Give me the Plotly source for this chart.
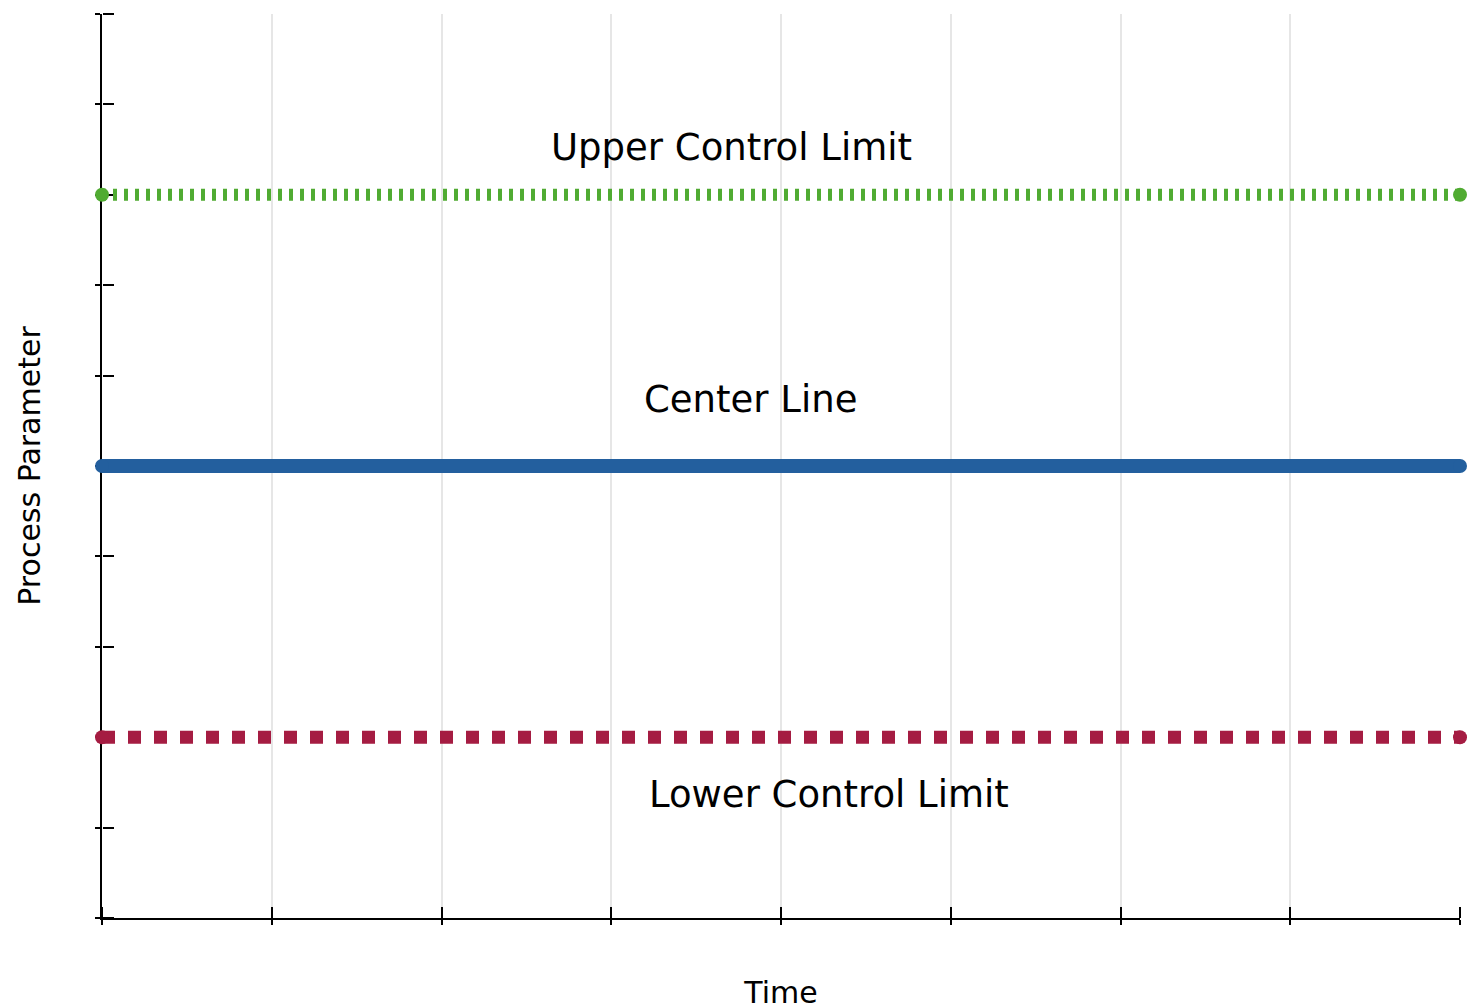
import plotly.graph_objects as go

time = [0, 8]
ucl = [8, 8]
center = [5, 5]
lcl = [2, 2]

labels = ["Upper Control Limit", "Center Line", "Lower Control Limit"]
label_x = [3.71, 3.82, 4.28]
label_y = [8.52, 5.74, 1.37]

x_ticks = list(range(0, 9))
y_ticks = list(range(0, 11))

FONT = "DejaVu Sans"
GREEN = "#50ab32"
BLUE = "#235f9e"
RED = "#a51c42"

fig = go.Figure()
fig.add_trace(go.Scatter(x=time, y=ucl, mode="lines+markers", cliponaxis=False,
                         line=dict(color=GREEN, width=12, dash="4px,7px"),
                         marker=dict(color=GREEN, size=14), hoverinfo="skip"))
fig.add_trace(go.Scatter(x=time, y=center, mode="lines+markers", cliponaxis=False,
                         line=dict(color=BLUE, width=14),
                         marker=dict(color=BLUE, size=14), hoverinfo="skip"))
fig.add_trace(go.Scatter(x=time, y=lcl, mode="lines+markers", cliponaxis=False,
                         line=dict(color=RED, width=13, dash="13px,13px"),
                         marker=dict(color=RED, size=14), hoverinfo="skip"))
# invisible trace so the overlay tick axes get drawn
fig.add_trace(go.Scatter(x=time, y=center, xaxis="x2", yaxis="y2", mode="lines",
                         line=dict(width=0), opacity=0, hoverinfo="skip"))

for t, x, y in zip(labels, label_x, label_y):
    fig.add_annotation(x=x, y=y, text=t, showarrow=False,
                       font=dict(family=FONT, size=37, color="#000000"))

tick_common = dict(showticklabels=False, tickwidth=2, tickcolor="#000",
                   showgrid=False, zeroline=False)

fig.update_layout(
    width=1478, height=1008,
    margin=dict(l=94, r=26, t=6, b=98),
    paper_bgcolor="white", plot_bgcolor="white",
    showlegend=False,
    font=dict(family=FONT, color="#000000"),
    xaxis=dict(range=[0, 8], tickvals=x_ticks, showticklabels=False,
               ticks="outside", ticklen=5, tickwidth=2, tickcolor="#000",
               showline=True, linecolor="#000", linewidth=2, layer="below traces",
               showgrid=True, gridcolor="#e6e6e6", gridwidth=2, zeroline=False,
               title=dict(text="Time", font=dict(family=FONT, size=30), standoff=58)),
    yaxis=dict(range=[0, 10], tickvals=y_ticks, showticklabels=False,
               ticks="outside", ticklen=5, tickwidth=2, tickcolor="#000",
               showline=True, linecolor="#000", linewidth=2, layer="below traces",
               showgrid=False, zeroline=False,
               title=dict(text="Process Parameter", font=dict(family=FONT, size=30), standoff=46)),
    xaxis2=dict(overlaying="x", anchor="free", position=0, side="top",
                range=[0, 8], tickvals=x_ticks, ticks="outside", ticklen=11,
                showline=False, layer="below traces", **tick_common),
    yaxis2=dict(overlaying="y", anchor="free", position=0, side="right",
                range=[0, 10], tickvals=y_ticks, ticks="outside", ticklen=11,
                showline=False, layer="below traces", **tick_common),
)

fig.write_html("out.html")
